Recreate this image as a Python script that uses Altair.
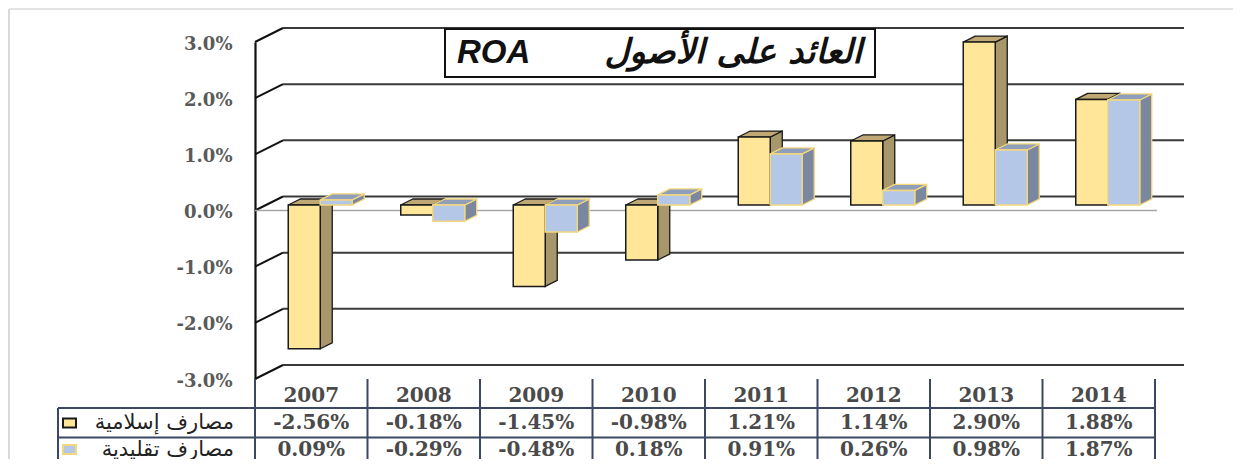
import altair as alt
import pandas as pd

# ---------------- data ----------------
years = ["2007", "2008", "2009", "2010", "2011", "2012", "2013", "2014"]
islamic = [-2.56, -0.18, -1.45, -0.98, 1.21, 1.14, 2.90, 1.88]
conventional = [0.09, -0.29, -0.48, 0.18, 0.91, 0.26, 0.98, 1.87]
series_names = ["مصارف إسلامية", "مصارف تقليدية"]
y_ticks = [-3, -2, -1, 0, 1, 2, 3]
title_ar = "العائد على الأصول"
title_en = "ROA"

# ---------------- geometry / styles ----------------
W, H = 900, 337
PXX = W / len(years)      # px per category unit
PXY = H / 6.0             # px per 1 %


def ux(px):
    return px / PXX


def uy(px):
    return px / PXY


BACK_DX, BACK_DY = ux(28), uy(14)       # back wall offset
BAR_SHIFT = uy(5.5)                     # bars sit a little behind the front plane
DEPTH_DX, DEPTH_DY = ux(12), uy(6)      # bar depth
bar_offsets = [(-23, 9), (9, 41)]       # px from category centre
front_cols = ["#FFE699", "#B4C7E7"]
side_cols = ["#A8976A", "#7A879F"]
top_cols = ["#BFA873", "#8E9EBB"]
stroke_cols = ["#1a1a1a", "#F2D77F"]
GRID_RIGHT = ux(1184 - 255)
FLOOR_RIGHT = ux(1157 - 255)
TABLE_LEFT = ux(58 - 255)
Y_HEAD = -uy(396 - 210.5)
Y_LINE1 = -uy(408 - 210.5)
Y_ROW1 = -uy(423 - 210.5)
Y_LINE2 = -uy(437.5 - 210.5)
Y_ROW2 = -uy(449.5 - 210.5)
Y_TABLE_TOP = -uy(379 - 210.5)
Y_TABLE_BOTTOM = -uy(470 - 210.5)

xs = alt.Scale(domain=[0, len(years)], nice=False, zero=False)
ys = alt.Scale(domain=[-3, 3], nice=False, zero=False)
YAXIS = alt.Axis(
    values=y_ticks, grid=False, ticks=False, domain=True,
    domainColor="#111111", domainWidth=2.2, title=None,
    labelExpr="(datum.value < 0 ? '-' : '') + format(abs(datum.value), '.1f') + '%'",
    labelFont="DejaVu Serif", labelFontWeight="bold", labelFontSize=18,
    labelColor="#5a5a5a", labelPadding=23, labelOffset=2)


def X(f):
    return alt.X(f, type="quantitative", scale=xs, axis=None)


def Y(f):
    return alt.Y(f, type="quantitative", scale=ys, axis=YAXIS)


# ---------------- bars (3D) ----------------
series_vals = [islamic, conventional]
fronts, sides, tops = [], [], []
for s, vals in enumerate(series_vals):
    for i, v in enumerate(vals):
        xl = i + 0.5 + ux(bar_offsets[s][0])
        xr = i + 0.5 + ux(bar_offsets[s][1])
        lo = min(0, v) + BAR_SHIFT
        hi = max(0, v) + BAR_SHIFT
        key = f"{s}-{i}"
        fronts.append(dict(s=s, key=key, xl=xl, xr=xr, lo=lo, hi=hi))
        for k in (0, 1):
            sides.append(dict(s=s, key=key, x=xr + k * DEPTH_DX,
                              y=lo + k * DEPTH_DY, y2=hi + k * DEPTH_DY))
            tops.append(dict(s=s, key=key, y=hi + k * DEPTH_DY,
                             x=xl + k * DEPTH_DX, x2=xr + k * DEPTH_DX))
fronts = pd.DataFrame(fronts)
sides = pd.DataFrame(sides)
tops = pd.DataFrame(tops)

bar_layers = []
for s in range(2):
    sd = alt.Chart(sides[sides.s == s]).mark_area(
        orient="vertical", fill=side_cols[s], stroke=stroke_cols[s],
        strokeWidth=1.3, opacity=1
    ).encode(x=X("x"), y=Y("y"), y2="y2", detail="key:N")
    tp = alt.Chart(tops[tops.s == s]).mark_area(
        orient="horizontal", fill=top_cols[s], stroke=stroke_cols[s],
        strokeWidth=1.3, opacity=1
    ).encode(y=Y("y"), x=X("x"), x2="x2", detail="key:N")
    fr = alt.Chart(fronts[fronts.s == s]).mark_rect(
        fill=front_cols[s], stroke=stroke_cols[s], strokeWidth=1.5
    ).encode(x=X("xl"), x2="xr", y=Y("lo"), y2="hi")
    bar_layers += [sd, tp, fr]

# ---------------- walls / grid ----------------
ticks_df = pd.DataFrame({"t": y_ticks})
ticks_df["tb"] = ticks_df["t"] + BACK_DY
ticks_df["x0"] = 0.0
ticks_df["xb"] = BACK_DX
ticks_df["xe"] = GRID_RIGHT

diag = alt.Chart(ticks_df).mark_rule(color="#111111", strokeWidth=2).encode(
    x=X("x0"), x2="xb", y=Y("t"), y2="tb")

back_grid = alt.Chart(ticks_df).mark_rule(color="#3a3a3a", strokeWidth=2).encode(
    x=X("xb"), x2="xe", y=Y("tb"))

floor_df = pd.DataFrame({"x0": [0.0], "x1": [FLOOR_RIGHT], "y": [0.0]})
floor = alt.Chart(floor_df).mark_rule(color="#A6A6A6", strokeWidth=1.5).encode(
    x=X("x0"), x2="x1", y=Y("y"))

# ---------------- title box ----------------
title_df = pd.DataFrame({"x0": [ux(445 - 255)], "x1": [ux(875 - 255)],
                         "y0": [-uy(77 - 210.5)], "y1": [-uy(29 - 210.5)],
                         "xen": [ux(457 - 255)], "xar": [ux(862 - 255)],
                         "yt": [-uy(53 - 210.5)],
                         "en": [title_en], "ar": [title_ar]})
tbox = alt.Chart(title_df).mark_rect(fill="white", stroke="#111111", strokeWidth=2).encode(
    x=X("x0"), x2="x1", y=Y("y0"), y2="y1")
t_en = alt.Chart(title_df).mark_text(
    align="left", baseline="middle", font="Liberation Sans", fontSize=33,
    fontWeight="bold", fontStyle="italic", color="#111111"
).encode(x=X("xen"), y=Y("yt"), text="en:N")
t_ar = alt.Chart(title_df).mark_text(
    align="right", baseline="middle", font="DejaVu Sans", fontSize=34,
    fontWeight="bold", fontStyle="italic", color="#111111"
).encode(x=X("xar"), y=Y("yt"), text="ar:N")

# ---------------- data table ----------------
table_rows = []
for i, yr in enumerate(years):
    table_rows.append(dict(x=i + 0.5, y=Y_HEAD, label=yr))


def pct(v):
    return ("-" if v < 0 else "") + f"{abs(v):.2f}%"


for i, v in enumerate(islamic):
    table_rows.append(dict(x=i + 0.5, y=Y_ROW1, label=pct(v)))
for i, v in enumerate(conventional):
    table_rows.append(dict(x=i + 0.5, y=Y_ROW2, label=pct(v)))
table_df = pd.DataFrame(table_rows)
table_text = alt.Chart(table_df).mark_text(
    align="center", baseline="middle", font="DejaVu Serif", fontSize=20,
    fontWeight="bold", color="#4a4a4a"
).encode(x=X("x"), y=Y("y"), text="label:N")

vlines_df = pd.DataFrame({"x": list(range(len(years) + 1))})
vlines_df["y0"] = Y_TABLE_TOP
vlines_df["y1"] = Y_TABLE_BOTTOM
vlines = alt.Chart(vlines_df).mark_rule(color="#3b4763", strokeWidth=2).encode(
    x=X("x"), y=Y("y0"), y2="y1")

hlines_df = pd.DataFrame({"y": [Y_LINE1, Y_LINE2]})
hlines_df["x0"] = TABLE_LEFT
hlines_df["x1"] = float(len(years))
hlines = alt.Chart(hlines_df).mark_rule(color="#3b4763", strokeWidth=2).encode(
    x=X("x0"), x2="x1", y=Y("y"))

lborder_df = pd.DataFrame({"x": [TABLE_LEFT], "y0": [Y_LINE1], "y1": [Y_TABLE_BOTTOM]})
lborder = alt.Chart(lborder_df).mark_rule(color="#3b4763", strokeWidth=2).encode(
    x=X("x"), y=Y("y0"), y2="y1")

leg_df = pd.DataFrame({
    "s": [0, 1],
    "name": series_names,
    "yc": [Y_ROW1, Y_ROW2],
})
leg_df["sx0"] = ux(63 - 255)
leg_df["sx1"] = ux(76 - 255)
leg_df["sy0"] = leg_df["yc"] - uy(4.5)
leg_df["sy1"] = leg_df["yc"] + uy(4.5)
leg_df["tx"] = ux(234 - 255)
swatches = alt.Chart(leg_df).mark_rect(strokeWidth=2).encode(
    x=X("sx0"), x2="sx1", y=Y("sy0"), y2="sy1",
    fill=alt.Fill("s:N", scale=alt.Scale(domain=[0, 1], range=front_cols), legend=None),
    stroke=alt.Stroke("s:N", scale=alt.Scale(domain=[0, 1], range=stroke_cols), legend=None))
leg_text = alt.Chart(leg_df).mark_text(
    align="right", baseline="middle", font="DejaVu Sans", fontSize=21, color="#222222"
).encode(x=X("tx"), y=Y("yc"), text="name:N")

# ---------------- frame ----------------
frame_v = alt.Chart(pd.DataFrame({"a": [0]})).mark_rule(color="#D9D9D9", strokeWidth=2).encode(
    x=alt.value(-246), y=alt.value(-33), y2=alt.value(430))
frame_h = alt.Chart(pd.DataFrame({"a": [0]})).mark_rule(color="#E3E3E3", strokeWidth=2).encode(
    x=alt.value(-246), x2=alt.value(1000), y=alt.value(-33))

chart = alt.layer(
    diag, back_grid, floor, tbox, t_en, t_ar,
    *bar_layers,
    vlines, hlines, lborder, table_text, swatches, leg_text,
    frame_v, frame_h,
).properties(
    width=W, height=H,
    padding={"left": 247, "top": 34, "right": 78, "bottom": 80},
    autosize=alt.AutoSizeParams(type="none"),
    background="white",
).configure_view(stroke=None)

chart.save("out.html", embed_options={"renderer": "svg", "actions": False})
